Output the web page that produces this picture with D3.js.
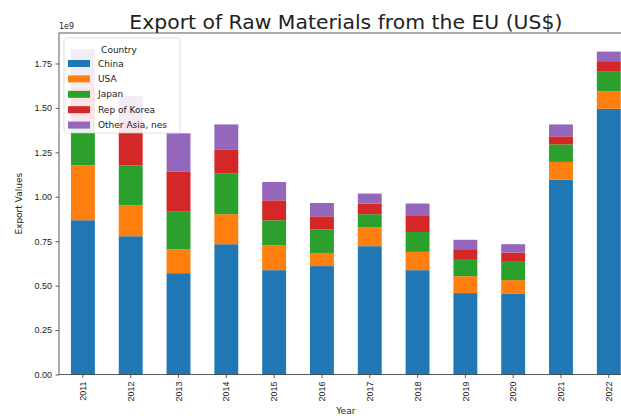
<!DOCTYPE html>
<html>
<head>
<meta charset="utf-8">
<script src="https://cdn.jsdelivr.net/npm/d3@7"></script>
<style>
  html, body { margin: 0; padding: 0; background: #fff; }
  svg { display: block; font-family: "DejaVu Sans", sans-serif; }
</style>
</head>
<body>
<svg id="chart" width="621" height="416"></svg>
<script>
// Export values in US$ by year and destination
const years = ["2011","2012","2013","2014","2015","2016","2017","2018","2019","2020","2021","2022"];
const countries = ["China", "USA", "Japan", "Rep of Korea", "Other Asia, nes"];
const china = [868e6, 778e6, 570e6, 733e6, 587e6, 610e6, 722e6, 587e6, 458e6, 456e6, 1097e6, 1495e6];
const usa   = [309e6, 174e6, 135e6, 169e6, 141e6,  74e6, 105e6, 103e6,  95e6,  75e6,   99e6,   99e6];
const japan = [243e6, 225e6, 214e6, 228e6, 140e6, 132e6,  75e6, 112e6,  92e6, 103e6,   99e6,  113e6];
const korea = [200e6, 250e6, 224e6, 137e6, 112e6,  74e6,  60e6,  94e6,  60e6,  52e6,   45e6,   56e6];
const other = [210e6, 140e6, 214e6, 140e6, 103e6,  75e6,  56e6,  66e6,  53e6,  47e6,   67e6,   54e6];
const yTicks = [0, 0.25e9, 0.5e9, 0.75e9, 1.0e9, 1.25e9, 1.5e9, 1.75e9];

const colors = ["#1f77b4", "#ff7f0e", "#2ca02c", "#d62728", "#9467bd"];
const seriesValues = [china, usa, japan, korea, other];

const rows = years.map((yr, i) => {
  const r = { year: yr };
  countries.forEach((c, k) => { r[c] = seriesValues[k][i]; });
  return r;
});
const stacked = d3.stack().keys(countries)(rows);

const svg = d3.select("#chart");
const plotLeft = 59, plotRight = 632.7, plotTop = 33, plotBottom = 374.5;

const x = d3.scaleBand().domain(years).range([plotLeft, plotRight])
  .paddingInner(0.5).paddingOuter(0.25);
const maxTotal = d3.max(rows, r => countries.reduce((s, c) => s + r[c], 0));
const y = d3.scaleLinear().domain([0, maxTotal * 1.05]).range([plotBottom, plotTop]);

// stacked bars
svg.append("g").selectAll("g").data(stacked).join("g")
  .attr("fill", (d, i) => colors[i])
  .selectAll("rect").data(d => d).join("rect")
  .attr("x", d => x(d.data.year))
  .attr("width", x.bandwidth())
  .attr("y", d => y(d[1]))
  .attr("height", d => y(d[0]) - y(d[1]));

// axes
const yAxis = d3.axisLeft(y).tickValues(yTicks)
  .tickFormat(v => (v / 1e9).toFixed(2)).tickSize(3.5).tickPadding(3.5);
const gy = svg.append("g").attr("transform", `translate(${plotLeft},0)`).call(yAxis);
gy.select(".domain").remove();
gy.selectAll("text").attr("font-size", 9).attr("fill", "#222");
gy.selectAll("line").attr("stroke", "#333").attr("stroke-width", 0.8);

const xAxis = d3.axisBottom(x).tickSize(3.5).tickPadding(3.5);
const gx = svg.append("g").attr("transform", `translate(0,${plotBottom})`).call(xAxis);
gx.select(".domain").remove();
gx.selectAll("line").attr("stroke", "#333").attr("stroke-width", 0.8);
gx.selectAll("text")
  .attr("font-size", 9).attr("fill", "#222")
  .attr("transform", "rotate(-90)")
  .attr("text-anchor", "end")
  .attr("x", -7).attr("y", 0).attr("dy", "0.35em");

// frame
svg.append("rect")
  .attr("x", plotLeft).attr("y", plotTop)
  .attr("width", plotRight - plotLeft).attr("height", plotBottom - plotTop)
  .attr("fill", "none").attr("stroke", "#333").attr("stroke-width", 0.8);

// offset text and titles
svg.append("text").attr("x", plotLeft).attr("y", 29)
  .attr("font-size", 8).attr("fill", "#222").text("1e9");

svg.append("text")
  .attr("x", (plotLeft + plotRight) / 2).attr("y", 29)
  .attr("text-anchor", "middle").attr("font-size", 19.5).attr("fill", "#222")
  .attr("textLength", 433).attr("lengthAdjust", "spacingAndGlyphs")
  .text("Export of Raw Materials from the EU (US$)");

svg.append("text")
  .attr("transform", `translate(22,${(plotTop + plotBottom) / 2}) rotate(-90)`)
  .attr("text-anchor", "middle").attr("font-size", 9).attr("fill", "#222")
  .text("Export Values");

svg.append("text")
  .attr("x", (plotLeft + plotRight) / 2).attr("y", 414)
  .attr("text-anchor", "middle").attr("font-size", 9).attr("fill", "#222")
  .text("Year");

// legend
const lg = svg.append("g").attr("transform", "translate(64,38)");
lg.append("rect").attr("width", 116).attr("height", 95).attr("rx", 2.5)
  .attr("fill", "#fff").attr("fill-opacity", 0.88)
  .attr("stroke", "#ccc").attr("stroke-opacity", 0.8).attr("stroke-width", 0.8);
lg.append("text").attr("x", 55).attr("y", 14.5)
  .attr("text-anchor", "middle").attr("font-size", 9).attr("fill", "#222")
  .text("Country");
const items = lg.selectAll("g.item").data(countries).join("g")
  .attr("class", "item")
  .attr("transform", (d, i) => `translate(0,${25.5 + i * 15.4})`);
items.append("rect").attr("x", 4).attr("y", -3.5).attr("width", 22).attr("height", 7)
  .attr("fill", (d, i) => colors[i]);
items.append("text").attr("x", 34).attr("y", 0).attr("dy", "0.35em")
  .attr("font-size", 9).attr("fill", "#222").text(d => d);
</script>
</body>
</html>
